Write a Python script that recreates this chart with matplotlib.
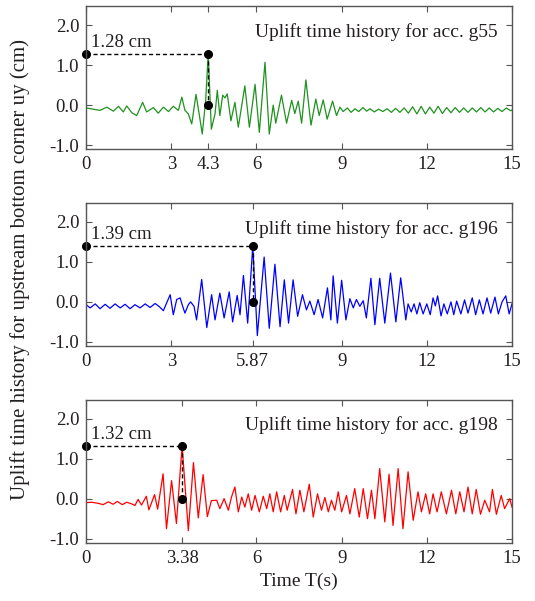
import matplotlib.pyplot as plt

plt.rcParams['font.family'] = ['Liberation Serif', 'DejaVu Serif']

# ---- data (extrema of each trace) ----
# g55
t_g55 = [0.00, 0.49, 0.73, 0.96, 1.14, 1.31, 1.43, 1.61, 1.78, 1.99, 2.13, 2.37, 2.54, 2.72,
         2.90, 3.07, 3.25, 3.37, 3.48, 3.60, 3.72, 3.87, 3.99, 4.09, 4.21, 4.30, 4.41, 4.54,
         4.62, 4.71, 4.81, 4.89, 4.97, 5.10, 5.24, 5.36, 5.59, 5.75, 5.95, 6.10, 6.30, 6.45,
         6.59, 6.68, 6.88, 7.06, 7.24, 7.35, 7.47, 7.59, 7.74, 7.92, 8.09, 8.21, 8.35, 8.49,
         8.68, 8.82, 8.94, 9.05, 9.20, 9.33, 9.47, 9.60, 9.75, 9.88, 10.00, 10.15, 10.30,
         10.45, 10.60, 10.75, 10.90, 11.05, 11.20, 11.35, 11.50, 11.65, 11.80, 11.95, 12.10,
         12.25, 12.40, 12.55, 12.70, 12.85, 13.00, 13.15, 13.30, 13.45, 13.60, 13.75, 13.90,
         14.05, 14.20, 14.35, 14.50, 14.65, 14.80, 14.95, 15.00]
u_g55 = [-0.07, -0.13, -0.05, -0.15, -0.03, -0.17, -0.02, -0.19, -0.26, 0.07, -0.17, -0.06,
         -0.20, -0.05, -0.16, -0.03, -0.13, 0.20, -0.13, -0.22, -0.47, 0.27, -0.26, -0.72,
         0.12, 1.28, -0.60, -0.22, 0.37, -0.26, 0.25, 0.18, 0.28, -0.39, 0.07, -0.55, 0.48,
         -0.55, 0.52, -0.68, 1.07, -0.72, 0.00, -0.45, 0.25, -0.45, 0.12, -0.21, 0.10, -0.45,
         0.63, -0.50, 0.15, -0.26, 0.13, -0.35, 0.10, -0.26, -0.05, -0.16, -0.07, -0.18,
         -0.09, -0.16, -0.06, -0.15, -0.09, -0.17, -0.10, -0.16, -0.09, -0.18, -0.08, -0.18,
         -0.07, -0.20, -0.04, -0.22, -0.03, -0.22, -0.05, -0.20, -0.03, -0.21, -0.06, -0.19,
         -0.06, -0.18, -0.07, -0.18, -0.07, -0.17, -0.06, -0.17, -0.07, -0.17, -0.08, -0.16,
         -0.07, -0.14, -0.12]

# g196
t_g196 = [0.00, 0.14, 0.32, 0.49, 0.67, 0.84, 1.02, 1.20, 1.37, 1.55, 1.72, 1.90, 2.08, 2.25,
          2.43, 2.58, 2.72, 2.96, 3.07, 3.19, 3.31, 3.40, 3.48, 3.60, 3.68, 3.80, 3.89, 4.07,
          4.25, 4.42, 4.54, 4.71, 4.86, 5.04, 5.16, 5.32, 5.42, 5.54, 5.69, 5.87, 6.03, 6.27,
          6.45, 6.65, 6.83, 6.98, 7.13, 7.29, 7.45, 7.62, 7.76, 7.88, 8.03, 8.17, 8.33, 8.50,
          8.62, 8.70, 8.85, 9.00, 9.15, 9.29, 9.41, 9.52, 9.64, 9.76, 9.87, 10.03, 10.17,
          10.34, 10.52, 10.72, 10.91, 11.08, 11.26, 11.34, 11.45, 11.55, 11.65, 11.75, 11.87,
          12.00, 12.12, 12.22, 12.30, 12.38, 12.50, 12.60, 12.72, 12.85, 12.95, 13.05, 13.20,
          13.33, 13.45, 13.60, 13.72, 13.85, 13.98, 14.12, 14.25, 14.40, 14.52, 14.65, 14.78,
          14.90, 15.00]
u_g196 = [-0.07, -0.15, -0.05, -0.17, -0.06, -0.16, -0.05, -0.15, -0.06, -0.17, -0.07, -0.15,
          -0.05, -0.14, -0.04, -0.12, -0.22, 0.18, -0.32, 0.06, 0.10, -0.11, -0.28, -0.07,
          0.00, -0.11, -0.45, 0.56, -0.64, 0.18, -0.45, 0.22, -0.40, 0.25, -0.50, 0.16, -0.32,
          0.66, -0.53, 1.39, -0.84, 1.12, -0.66, 0.94, -0.62, 0.55, -0.53, 0.55, -0.36, 0.18,
          -0.20, 0.02, -0.32, 0.06, -0.40, 0.35, -0.45, 0.65, -0.53, 0.54, -0.45, 0.08, -0.15,
          0.06, -0.11, 0.03, -0.40, 0.59, -0.57, 0.59, -0.53, 0.72, -0.50, 0.60, -0.45, -0.05,
          -0.25, -0.05, -0.30, -0.02, -0.30, -0.05, -0.32, 0.10, -0.10, 0.15, -0.35, -0.05,
          -0.30, 0.00, -0.32, 0.02, -0.30, 0.05, -0.28, 0.10, -0.32, 0.05, -0.30, 0.10, -0.28,
          0.12, -0.30, 0.00, 0.15, -0.30, -0.05]

# g198
t_g198 = [0.00, 0.20, 0.45, 0.60, 0.78, 0.95, 1.10, 1.27, 1.43, 1.60, 1.72, 1.83, 1.95, 2.12,
          2.21, 2.41, 2.52, 2.71, 2.83, 3.01, 3.18, 3.38, 3.60, 3.78, 3.95, 4.12, 4.27, 4.41,
          4.60, 4.71, 4.86, 5.01, 5.12, 5.24, 5.36, 5.48, 5.59, 5.71, 5.83, 5.95, 6.10, 6.24,
          6.36, 6.47, 6.59, 6.71, 6.85, 6.98, 7.08, 7.27, 7.39, 7.53, 7.67, 7.86, 8.00, 8.15,
          8.29, 8.41, 8.53, 8.64, 8.76, 8.88, 9.00, 9.17, 9.29, 9.46, 9.62, 9.76, 9.91, 10.05,
          10.17, 10.34, 10.52, 10.67, 10.81, 10.99, 11.16, 11.34, 11.52, 11.69, 11.81, 11.96,
          12.10, 12.22, 12.36, 12.51, 12.69, 12.87, 13.02, 13.16, 13.31, 13.45, 13.60, 13.74,
          13.89, 14.04, 14.21, 14.31, 14.45, 14.62, 14.74, 14.92, 15.00]
u_g198 = [-0.10, -0.09, -0.12, -0.15, -0.08, -0.14, -0.07, -0.15, -0.09, -0.13, -0.17, -0.02,
          -0.16, 0.06, -0.28, 0.10, -0.26, 0.62, -0.75, 0.45, -0.62, 1.32, -0.80, 0.90, -0.48,
          0.60, -0.45, -0.05, -0.04, -0.25, 0.00, -0.29, 0.04, 0.29, -0.33, 0.04, -0.21, 0.12,
          -0.29, 0.08, -0.33, 0.06, -0.25, 0.12, -0.33, 0.17, -0.33, 0.08, -0.29, 0.23, -0.38,
          0.21, -0.33, 0.36, -0.46, 0.12, -0.29, 0.03, -0.33, -0.04, -0.29, 0.17, -0.33, 0.08,
          -0.38, 0.25, -0.46, 0.25, -0.50, 0.21, -0.50, 0.75, -0.58, 0.61, -0.67, 0.75, -0.75,
          0.67, -0.54, 0.17, -0.33, 0.12, -0.38, 0.12, -0.33, 0.17, -0.38, 0.21, -0.38, 0.17,
          -0.33, 0.29, -0.38, 0.23, -0.39, -0.04, -0.33, 0.23, -0.39, 0.08, -0.25, 0.00, -0.21]

records = ['g55', 'g196', 'g198']
peak_time = [4.3, 5.87, 3.38]
peak_uplift = [1.28, 1.39, 1.32]
xtick_vals = [[0, 3, 4.3, 6, 9, 12, 15],
              [0, 3, 5.87, 9, 12, 15],
              [0, 3.38, 6, 9, 12, 15]]
ytick_vals = [-1.0, 0.0, 1.0, 2.0]
line_colors = ['#1f921f', '#0000ff', '#ff0000']
series = [(t_g55, u_g55), (t_g196, u_g196), (t_g198, u_g198)]

txt = '#231f20'
fig, axes = plt.subplots(3, 1, figsize=(5.35, 6.01), dpi=100)
fig.subplots_adjust(left=0.161, right=0.957, top=0.990, bottom=0.097, hspace=0.374)

for i, ax in enumerate(axes):
    t, u = series[i]
    ax.plot(t, u, color=line_colors[i], lw=0.9)
    tp, up = peak_time[i], peak_uplift[i]
    # peak marker lines
    ax.plot([0, tp], [up, up], 'k--', lw=1, dashes=(3, 2))
    ax.plot([tp, tp], [up, 0], 'k--', lw=1, dashes=(3, 2))
    ax.plot([0, tp, tp], [up, up, 0], 'ko', ms=5.5, clip_on=False)
    ax.text(0.17, up + 0.17, '%.2f cm' % up, fontsize=13.5, color=txt, ha='left', va='baseline')
    ax.text(14.5, 1.83, 'Uplift time history for acc. ' + records[i], fontsize=14,
            color=txt, ha='right', va='center')

    ax.set_xlim(0, 15)
    ax.set_ylim(-1.1, 2.475)
    ax.set_xticks(xtick_vals[i], [('%g' % v) for v in xtick_vals[i]])
    ax.set_yticks(ytick_vals, ['%.1f' % v for v in ytick_vals])
    ax.tick_params(direction='in', top=True, right=True, length=4, width=0.8,
                   labelsize=13.5, colors='#555555', labelcolor=txt, pad=5)
    for s in ax.spines.values():
        s.set_color('#555555')
        s.set_linewidth(1.0)

axes[2].set_xlabel('Time T(s)', fontsize=14, color=txt, labelpad=4)
fig.text(0.038, 0.551, 'Uplift time history for upstream bottom corner uy (cm)',
         rotation=90, ha='center', va='center', fontsize=15, color=txt)

fig.savefig('out.png', dpi=100)
